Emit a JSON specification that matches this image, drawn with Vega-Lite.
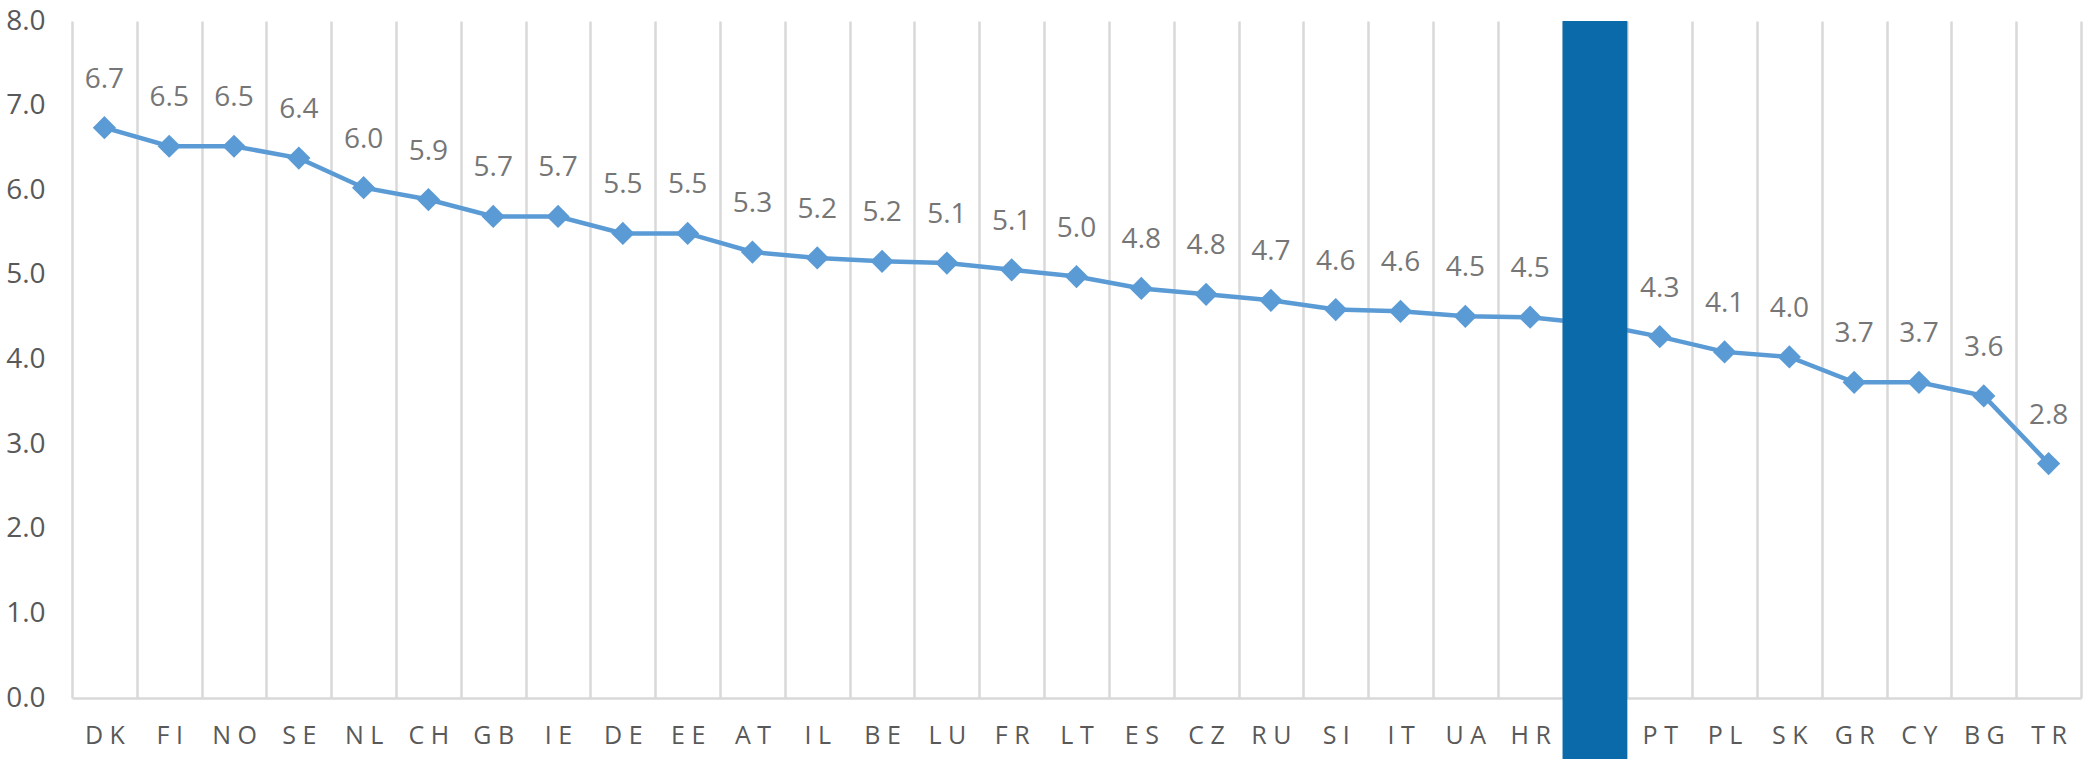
{
  "$schema": "https://vega.github.io/schema/vega-lite/v6.json",
  "width": 2009,
  "height": 677,
  "autosize": {"type": "none"},
  "padding": {"left": 72, "top": 21, "right": 13, "bottom": 61},
  "background": "white",
  "config": {"view": {"stroke": null}, "font": "Open Sans, sans-serif"},
  "data": {
    "values": [
      {"country": "DK", "value": 6.74},
      {"country": "FI", "value": 6.52},
      {"country": "NO", "value": 6.52},
      {"country": "SE", "value": 6.38},
      {"country": "NL", "value": 6.03},
      {"country": "CH", "value": 5.89},
      {"country": "GB", "value": 5.69},
      {"country": "IE", "value": 5.69},
      {"country": "DE", "value": 5.49},
      {"country": "EE", "value": 5.49},
      {"country": "AT", "value": 5.27},
      {"country": "IL", "value": 5.2},
      {"country": "BE", "value": 5.16},
      {"country": "LU", "value": 5.14},
      {"country": "FR", "value": 5.06},
      {"country": "LT", "value": 4.98},
      {"country": "ES", "value": 4.84},
      {"country": "CZ", "value": 4.77},
      {"country": "RU", "value": 4.7},
      {"country": "SI", "value": 4.59},
      {"country": "IT", "value": 4.57},
      {"country": "UA", "value": 4.51},
      {"country": "HR", "value": 4.5},
      {"country": "HU", "value": 4.42},
      {"country": "PT", "value": 4.27},
      {"country": "PL", "value": 4.09},
      {"country": "SK", "value": 4.03},
      {"country": "GR", "value": 3.73},
      {"country": "CY", "value": 3.73},
      {"country": "BG", "value": 3.57},
      {"country": "TR", "value": 2.77}
    ]
  },
  "encoding": {
    "x": {
      "field": "country",
      "type": "nominal",
      "sort": null,
      "scale": {"type": "band", "paddingInner": 0, "paddingOuter": 0},
      "axis": {
        "title": null,
        "labelAngle": 0,
        "tickBand": "extent",
        "grid": true,
        "gridColor": "#d9d9d9",
        "gridWidth": 2.5,
        "ticks": false,
        "domainColor": "#d9d9d9",
        "domainWidth": 2.5,
        "labelFontSize": 25,
        "labelColor": "#595959",
        "labelPadding": 25,
        "labelExpr": "join(split(datum.label, ''), ' ')"
      }
    }
  },
  "layer": [
    {
      "mark": {"type": "line", "color": "#5b9bd5", "strokeWidth": 4.5},
      "encoding": {
        "y": {
          "field": "value",
          "type": "quantitative",
          "scale": {"domain": [0, 8], "nice": false, "zero": true},
          "axis": {
            "title": null,
            "domain": false,
            "ticks": false,
            "grid": false,
            "values": [0, 1, 2, 3, 4, 5, 6, 7, 8],
            "format": ".1f",
            "labelFontSize": 28,
            "labelColor": "#595959",
            "labelPadding": 27
          }
        }
      }
    },
    {
      "mark": {"type": "point", "shape": "diamond", "filled": true, "size": 540, "color": "#5b9bd5", "opacity": 1},
      "encoding": {"y": {"field": "value", "type": "quantitative"}}
    },
    {
      "mark": {"type": "text", "dy": -40, "baseline": "alphabetic", "align": "center", "fontSize": 28, "color": "#767676"},
      "encoding": {
        "y": {"field": "value", "type": "quantitative"},
        "text": {"field": "value", "type": "quantitative", "format": ".1f"}
      }
    },
    {
      "transform": [{"filter": "datum.country === 'HU'"}],
      "mark": {"type": "bar", "color": "#0b6aaa", "clip": false},
      "encoding": {
        "y": {"datum": 8, "type": "quantitative"},
        "y2": {"datum": -0.75}
      }
    }
  ]
}
